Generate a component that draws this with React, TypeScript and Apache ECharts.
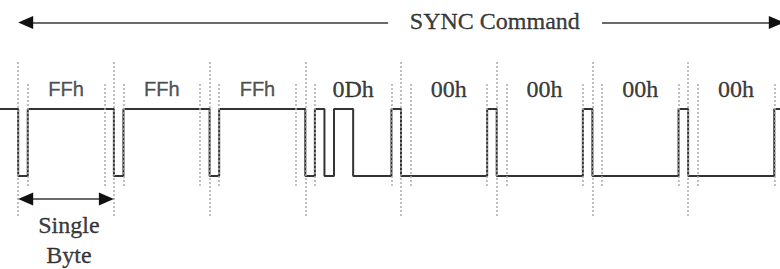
import React, { useEffect, useRef } from "react";
import * as echarts from "echarts";

// ---- data ----
const byteLabels = ["FFh", "FFh", "FFh", "0Dh", "00h", "00h", "00h", "00h"];
const byteValues = [0xff, 0xff, 0xff, 0x0d, 0x00, 0x00, 0x00, 0x00];
const BITS_PER_FRAME = 10; // start bit + 8 data bits + stop bit
const titleText = "SYNC Command";
const spanText = "Single\nByte";

// UART frame: start(0), 8 data bits LSB first, stop(1)
function frameBits(v: number): number[] {
  const b = [0];
  for (let i = 0; i < 8; i++) b.push((v >> i) & 1);
  b.push(1);
  return b;
}

const SANS = "Arial, 'Liberation Sans', sans-serif";
const SERIF = "'Times New Roman', 'Liberation Serif', serif";

export default function App() {
  const ref = useRef<HTMLDivElement>(null);
  useEffect(() => {
    if (!ref.current) return;
    const chart = echarts.init(ref.current, null, { renderer: "svg" });

    const X_MIN = -1.9, X_MAX = 79.6;
    const Y_MIN = -1.388, Y_MAX = 2.627;
    const pxPerX = 780 / (X_MAX - X_MIN);
    const arrowLen = 15, arrowW = 13;
    const half = arrowLen / 2 / pxPerX;

    const levels = byteValues.flatMap(frameBits);
    const wave: number[][] = [[X_MIN, 1]];
    let prev = 1;
    levels.forEach((l, i) => {
      if (l !== prev) {
        wave.push([i, prev], [i, l]);
        prev = l;
      }
    });
    wave.push([X_MAX, prev]);
    const nBits = byteValues.length * BITS_PER_FRAME;

    // guide lines
    const TALL = [1.701, -0.627];
    const SHORT = [1.373, -0.179];
    const guides: any[] = [];
    byteValues.forEach((_, k) => {
      const s = k * BITS_PER_FRAME;
      guides.push([{ coord: [s, TALL[0]] }, { coord: [s, TALL[1]] }]);
      guides.push([{ coord: [s + 1, SHORT[0]] }, { coord: [s + 1, SHORT[1]] }]);
      guides.push([
        { coord: [s + BITS_PER_FRAME - 1, SHORT[0]] },
        { coord: [s + BITS_PER_FRAME - 1, SHORT[1]] },
      ]);
    });

    const topY = 2.291;
    const spanY = -0.343;
    const gapL = 38.65, gapR = 61.0;
    const lineStyleGray = { color: "#6a6a6a", width: 2, type: "solid" as const };
    const head = (x: number, y: number, dir: number) => [
      {
        coord: [x - dir * half, y],
        symbol: "triangle",
        symbolSize: [arrowW, arrowLen],
        lineStyle: { color: "#111", width: 2, type: "solid" },
      },
      { coord: [x - dir * half * 1.2, y], symbol: "none" },
    ];
    const arrows: any[] = [
      [{ coord: [0 + half, topY], lineStyle: lineStyleGray }, { coord: [gapL, topY] }],
      [{ coord: [gapR, topY], lineStyle: lineStyleGray }, { coord: [nBits - half, topY] }],
      head(0, topY, -1),
      head(nBits, topY, 1),
      [{ coord: [0 + half, spanY], lineStyle: lineStyleGray }, { coord: [BITS_PER_FRAME - half, spanY] }],
      head(0, spanY, -1),
      head(BITS_PER_FRAME, spanY, 1),
    ];

    const ink = (color: string) => ({ color, textBorderColor: color, textBorderWidth: 0.35 });
    const labelY = 1.306;
    const labelData = byteLabels.map((name, k) => {
      const sans = name === "FFh";
      return {
        name,
        value: [k * BITS_PER_FRAME + BITS_PER_FRAME / 2, labelY],
        label: {
          fontFamily: sans ? SANS : SERIF,
          fontSize: sans ? 20 : 24,
          ...ink(sans ? "#2a2a2a" : "#0a0a0a"),
        },
      };
    });
    const textData = [
      {
        name: titleText,
        value: [49.8, 2.313],
        label: { fontFamily: SERIF, fontSize: 24, ...ink("#0a0a0a") },
      },
      {
        name: spanText,
        value: [5.3, -0.955],
        label: { fontFamily: SERIF, fontSize: 24, lineHeight: 30, ...ink("#0a0a0a") },
      },
    ];

    chart.setOption({
      animation: false,
      backgroundColor: "#fff",
      grid: { left: 0, right: 0, top: 0, bottom: 0 },
      xAxis: { type: "value", min: X_MIN, max: X_MAX, show: false, splitLine: { show: false } },
      yAxis: { type: "value", min: Y_MIN, max: Y_MAX, show: false, splitLine: { show: false } },
      series: [
        {
          type: "line",
          data: [],
          z: 1,
          silent: true,
          markLine: {
            silent: true,
            symbol: "none",
            label: { show: false },
            lineStyle: { color: "#aaaaaa", width: 1.5, type: [2, 2] },
            emphasis: { disabled: true },
            data: guides,
          },
        },
        {
          type: "line",
          data: wave,
          z: 3,
          symbol: "none",
          silent: true,
          lineStyle: { color: "#333", width: 2 },
          clip: false,
        },
        {
          type: "line",
          data: [],
          z: 4,
          silent: true,
          markLine: {
            silent: true,
            symbol: "none",
            label: { show: false },
            emphasis: { disabled: true },
            data: arrows,
          },
        },
        {
          type: "scatter",
          z: 5,
          symbolSize: 0,
          silent: true,
          label: { show: true, position: "inside", formatter: "{b}", align: "center", verticalAlign: "middle" },
          data: [...labelData, ...textData],
        },
      ],
    });
    return () => chart.dispose();
  }, []);

  return (
    <div
      ref={ref}
      style={{ position: "absolute", left: 0, top: 0, width: 780, height: 269, background: "#fff" }}
    />
  );
}
